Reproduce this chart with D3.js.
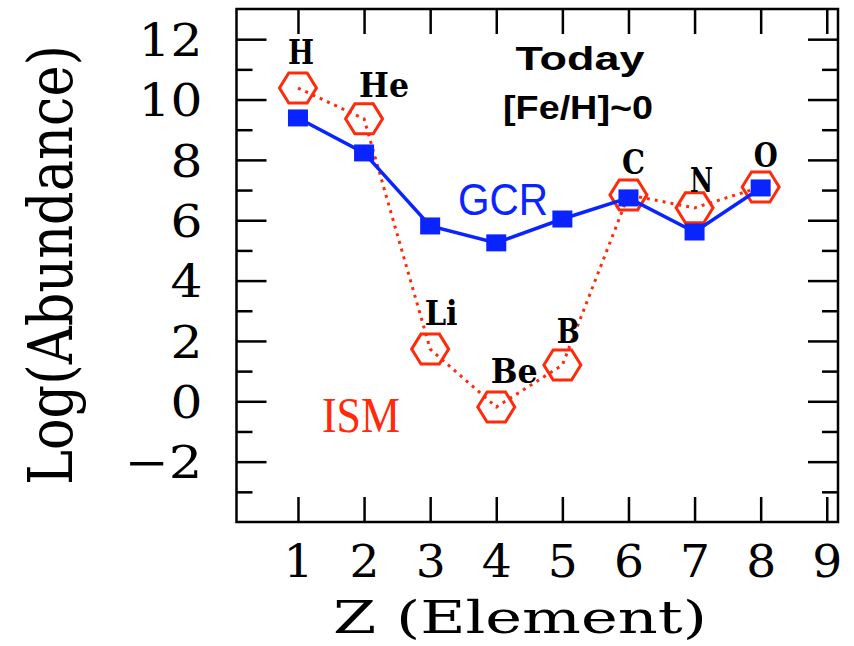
<!DOCTYPE html>
<html lang="en">
<head>
    <meta charset="UTF-8">
    <title></title>
    <style type="text/css">
        html, body { padding:0; margin:0; background:#fff; }
    </style>
</head>
<body>
<script src="https://d3js.org/d3.v7.min.js"></script>
<script type="text/javascript">
    // values
    var elements = ['H', 'He', 'Li', 'Be', 'B', 'C', 'N', 'O'];
    var zValues = [1, 2, 3, 4, 5, 6, 7, 8];
    var ismAbund = [10.38, 9.36, 1.73, -0.19, 1.2, 6.84, 6.41, 7.1];
    var gcrAbund = [9.39, 8.23, 5.81, 5.25, 6.04, 6.74, 5.61, 7.07];

    var xTickValues = [1, 2, 3, 4, 5, 6, 7, 8, 9];
    var yMajorTicks = [-2, 0, 2, 4, 6, 8, 10, 12];
    var yMinorTicks = [-3, -1, 1, 3, 5, 7, 9, 11];

    // label nudges in px (layout only)
    var labelDx = [3, 20, 11, 18, 6, 5, 7, 5];
    var labelDy = [-24, -22, -24, -24, -22, -21, -16, -20];
    var labelLen = [26, 50, 33, 47, 23, 23, 23, 24];

    var width = 854,
        height = 646,
        plotLeft = 236.5, plotRight = 838, plotTop = 9, plotBottom = 522,
        red = '#ff2a0a', blue = '#0a24ff',
        svg, xScale, yScale;

    svg = d3.select('body').append('svg')
            .attr('width', width)
            .attr('height', height);

    xScale = d3.scaleLinear().domain([0.07, 9.17]).range([plotLeft, plotRight]);
    yScale = d3.scaleLinear().domain([-4, 13]).range([plotBottom, plotTop]);

    var chart = {
        renderAxes: renderAxes,
        renderFrame: renderFrame,
        renderIsm: renderIsm,
        renderGcr: renderGcr,
        renderText: renderText,
        init: function() {
            this.renderAxes();
            this.renderIsm();
            this.renderGcr();
            this.renderFrame();
            this.renderText();
        }
    };

    chart.init();

    function styleTicks(g) {
        g.select('.domain').remove();
        g.selectAll('.tick line').attr('stroke', '#000').attr('stroke-width', 2.5);
    }

    function renderAxes() {
        // left major
        var yLeft = d3.axisLeft(yScale).tickValues(yMajorTicks).tickSize(-30).tickPadding(34)
            .tickFormat(function(d) { return d < 0 ? '\u2212' + Math.abs(d) : d; });
        svg.append('g').attr('class', 'y-axis')
            .attr('transform', 'translate(' + plotLeft + ',0)')
            .call(yLeft)
            .call(styleTicks)
            .selectAll('text')
            .attr('font-family', 'DejaVu Serif')
            .attr('font-size', 45)
            .attr('fill', '#000')
            .attr('dy', '0.36em')
            .attr('lengthAdjust', 'spacingAndGlyphs')
            .attr('textLength', function(d) { return d < 0 ? 78 : String(d).length * 32; });

        svg.append('g')
            .attr('transform', 'translate(' + plotLeft + ',0)')
            .call(d3.axisLeft(yScale).tickValues(yMinorTicks).tickSize(-16).tickFormat(''))
            .call(styleTicks);

        // right mirror
        svg.append('g')
            .attr('transform', 'translate(' + plotRight + ',0)')
            .call(d3.axisRight(yScale).tickValues(yMajorTicks).tickSize(-30).tickFormat(''))
            .call(styleTicks);
        svg.append('g')
            .attr('transform', 'translate(' + plotRight + ',0)')
            .call(d3.axisRight(yScale).tickValues(yMinorTicks).tickSize(-16).tickFormat(''))
            .call(styleTicks);

        // bottom
        svg.append('g').attr('class', 'x-axis')
            .attr('transform', 'translate(0,' + plotBottom + ')')
            .call(d3.axisBottom(xScale).tickValues(xTickValues).tickSize(-25).tickPadding(23))
            .call(styleTicks)
            .selectAll('text')
            .attr('font-family', 'DejaVu Serif')
            .attr('font-size', 45)
            .attr('fill', '#000')
            .attr('dy', '0.71em')
            .attr('lengthAdjust', 'spacingAndGlyphs')
            .attr('textLength', 30);

        // top mirror
        svg.append('g')
            .attr('transform', 'translate(0,' + plotTop + ')')
            .call(d3.axisTop(xScale).tickValues(xTickValues).tickSize(-25).tickFormat(''))
            .call(styleTicks);
    }

    function renderFrame() {
        svg.append('rect')
            .attr('x', plotLeft)
            .attr('y', plotTop)
            .attr('width', plotRight - plotLeft)
            .attr('height', plotBottom - plotTop)
            .attr('fill', 'none')
            .attr('stroke', '#000')
            .attr('stroke-width', 2.5);
    }

    function renderIsm() {
        var pts = zValues.map(function(z, i) { return {x: z, y: ismAbund[i]}; });
        var line = d3.line()
            .x(function(d) { return xScale(d.x); })
            .y(function(d) { return yScale(d.y); });

        svg.append('path')
            .datum(pts)
            .attr('d', line)
            .attr('fill', 'none')
            .attr('stroke', red)
            .attr('stroke-width', 3)
            .attr('stroke-dasharray', '3,5');

        var hex = 'M-18.5,0L-9.2,-15L9.2,-15L18.5,0L9.2,15L-9.2,15Z';
        svg.append('g').selectAll('path.hex')
            .data(pts)
            .enter()
            .append('path')
            .attr('class', 'hex')
            .attr('d', hex)
            .attr('transform', function(d) {
                return 'translate(' + xScale(d.x) + ',' + yScale(d.y) + ')';
            })
            .attr('fill', 'none')
            .attr('stroke', red)
            .attr('stroke-width', 3);
    }

    function renderGcr() {
        var pts = zValues.map(function(z, i) { return {x: z, y: gcrAbund[i]}; });
        var line = d3.line()
            .x(function(d) { return xScale(d.x); })
            .y(function(d) { return yScale(d.y); });

        svg.append('path')
            .datum(pts)
            .attr('d', line)
            .attr('fill', 'none')
            .attr('stroke', blue)
            .attr('stroke-width', 3.5);

        svg.append('g').selectAll('rect')
            .data(pts)
            .enter()
            .append('rect')
            .attr('x', function(d) { return xScale(d.x) - 10; })
            .attr('y', function(d) { return yScale(d.y) - 8.5; })
            .attr('width', 20)
            .attr('height', 17)
            .attr('fill', blue);
    }

    function addText(txt, x, y, opts) {
        var t = svg.append('text')
            .attr('x', x)
            .attr('y', y)
            .attr('text-anchor', 'middle')
            .attr('font-family', opts.family)
            .attr('font-size', opts.size)
            .attr('font-weight', opts.weight || 'normal')
            .attr('fill', opts.color || '#000')
            .text(txt);
        if (opts.len) {
            t.attr('textLength', opts.len).attr('lengthAdjust', 'spacingAndGlyphs');
        }
        return t;
    }

    function renderText() {
        // element names
        elements.forEach(function(el, i) {
            addText(el, xScale(zValues[i]) + labelDx[i], yScale(ismAbund[i]) + labelDy[i],
                {family: 'DejaVu Serif', size: 34, weight: 'bold', len: labelLen[i]});
        });

        addText('Today', 580, 70, {family: 'Liberation Sans', size: 33, weight: 'bold', len: 129});
        addText('[Fe/H]~0', 578, 119, {family: 'Liberation Sans', size: 33, weight: 'bold', len: 150});
        addText('GCR', 503, 215, {family: 'Liberation Sans', size: 44, color: blue, len: 90});
        addText('ISM', 361, 432, {family: 'Liberation Serif', size: 50, color: red, len: 78});

        addText('Z (Element)', 520, 633, {family: 'DejaVu Serif', size: 45, len: 374});

        svg.append('text')
            .attr('transform', 'translate(72,265) scale(1.36,1) rotate(-90)')
            .attr('text-anchor', 'middle')
            .attr('font-family', 'DejaVu Serif')
            .attr('font-size', 45)
            .attr('textLength', 440)
            .attr('lengthAdjust', 'spacingAndGlyphs')
            .text('Log(Abundance)');
    }
</script>
</body>
</html>
